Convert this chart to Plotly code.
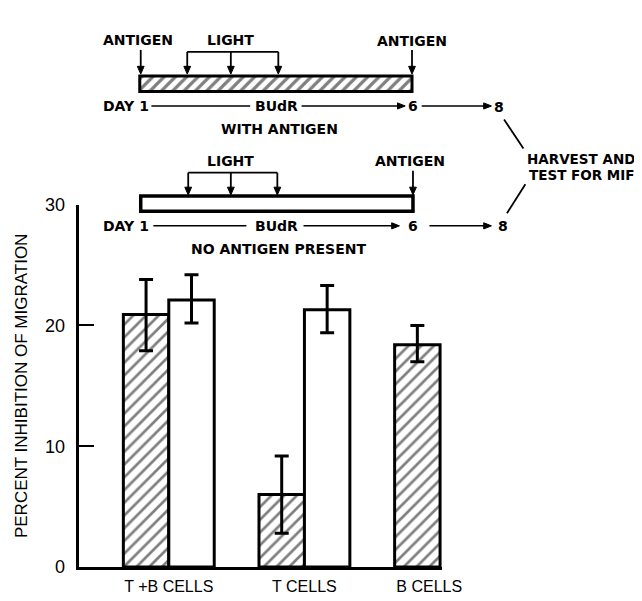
import plotly.graph_objects as go

# ---------------- data ----------------
categories = ["T +B CELLS", "T CELLS", "B CELLS"]
cat_pos = [0, 1, 2]
label_pos = [0, 1, 1.92]
with_antigen = [20.9, 6.0, 18.4]
with_err_up = [2.9, 3.2, 1.6]
with_err_down = [3.0, 3.2, 1.4]
no_antigen = [22.1, 21.3, None]
no_err_up = [2.1, 2.0, None]
no_err_down = [1.9, 1.9, None]
y_ticks = [0, 10, 20, 30]
y_title = "PERCENT INHIBITION OF MIGRATION"

# ---------------- layout constants (pixels) ----------------
W, H = 642, 601
AX_L, AX_R, AX_B, AX_T = 73, 448, 568, 193

fig = go.Figure()

fig.add_trace(go.Bar(
    x=cat_pos, y=with_antigen, name="with antigen",
    marker=dict(color="white", line=dict(color="black", width=3),
                pattern=dict(shape="/", fgcolor="black", bgcolor="white", size=9, solidity=0.3)),
    error_y=dict(type="data", symmetric=False, array=with_err_up, arrayminus=with_err_down,
                 color="black", thickness=3, width=7),
    showlegend=False, hoverinfo="skip"))

fig.add_trace(go.Bar(
    x=cat_pos, y=no_antigen, name="no antigen",
    marker=dict(color="white", line=dict(color="black", width=3)),
    error_y=dict(type="data", symmetric=False, array=no_err_up, arrayminus=no_err_down,
                 color="black", thickness=3, width=7),
    showlegend=False, hoverinfo="skip"))

# ---------------- schematic (overlay axes in pixel units) ----------------
BAR_L, BAR_R = 136, 417
fig.add_trace(go.Bar(
    x=[BAR_R - BAR_L], base=[BAR_L], y=[68], width=[16], orientation="h",
    xaxis="x2", yaxis="y2",
    marker=dict(color="white", line=dict(color="black", width=3),
                pattern=dict(shape="/", fgcolor="black", bgcolor="white", size=8, solidity=0.4)),
    showlegend=False, hoverinfo="skip"))
fig.add_trace(go.Bar(
    x=[418 - 137], base=[137], y=[192], width=[16], orientation="h",
    xaxis="x2", yaxis="y2",
    marker=dict(color="white", line=dict(color="black", width=3.5)),
    showlegend=False, hoverinfo="skip"))

shapes = []
annotations = []
FONT = dict(family="DejaVu Sans", size=14, color="black", weight="bold")


def seg(x0, y0, x1, y1, w=1.8):
    shapes.append(dict(type="line", xref="x2", yref="y2", x0=x0, y0=y0, x1=x1, y1=y1,
                       line=dict(color="black", width=w), layer="above"))


def tri(path):
    shapes.append(dict(type="path", xref="x2", yref="y2", path=path,
                       fillcolor="black", line=dict(color="black", width=1), layer="above"))


def arrow_down(x, y0, y1):
    seg(x, y0, x, y1 - 5, 1.8)
    tri(f"M {x-3.5},{y1-8} L {x+3.5},{y1-8} L {x},{y1} Z")


def arrow_right(x0, x1, y):
    seg(x0, y, x1 - 6, y, 1.5)
    tri(f"M {x1-8},{y-3.2} L {x1-8},{y+3.2} L {x1},{y} Z")


def text(s, x, y, anchor="center", size=14):
    f = dict(FONT)
    f["size"] = size
    annotations.append(dict(text=s, x=x, y=y, xref="x2", yref="y2", showarrow=False,
                            xanchor=anchor, yanchor="middle", font=f, borderpad=0))


# upper schematic
text("ANTIGEN", 134, 23)
arrow_down(137, 33, 58)
text("LIGHT", 230, 23)
seg(185, 35, 279, 35, 1.8)
for xx in (185, 230, 279):
    arrow_down(xx, 35, 58)
text("ANTIGEN", 417, 24)
arrow_down(417, 33, 58)
text("DAY 1", 97, 91, "left")
seg(148, 91, 250, 91, 1.5)
text("BUdR", 277, 91)
arrow_right(303, 410, 91)
text("6", 418, 91)
arrow_right(427, 499, 91)
text("8", 507, 92)
text("WITH ANTIGEN", 280, 115)
seg(512, 105, 532, 135, 1.8)

# lower schematic
text("LIGHT", 230, 148)
seg(186, 160, 278, 160, 1.8)
for xx in (186, 230, 278):
    arrow_down(xx, 160, 183)
text("ANTIGEN", 415, 148)
arrow_down(418, 158, 183)
text("DAY 1", 97, 215, "left")
seg(150, 215, 246, 215, 1.5)
text("BUdR", 277, 215)
arrow_right(305, 404, 215)
text("6", 418, 215)
arrow_right(435, 499, 215)
text("8", 511, 215)
text("NO ANTIGEN PRESENT", 279, 239)
seg(534, 172, 515, 202, 1.8)

text("HARVEST AND", 535, 146, "left", 13.5)
text("TEST FOR MIF", 537, 162, "left", 13.5)

fig.update_layout(
    width=W, height=H,
    margin=dict(l=0, r=0, t=0, b=0),
    paper_bgcolor="white", plot_bgcolor="rgba(0,0,0,0)",
    barmode="group", bargap=0.33, bargroupgap=0,
    shapes=shapes, annotations=annotations,
    xaxis=dict(domain=[AX_L / W, AX_R / W], range=[-0.664, -0.664 + (AX_R - AX_L) / 140.0],
               showline=True, linecolor="black", linewidth=3, showgrid=False, zeroline=False,
               tickmode="array", tickvals=label_pos, ticktext=categories, ticks="",
               ticklabelstandoff=3,
               tickfont=dict(family="Liberation Sans", size=16, color="black"),
               anchor="y", fixedrange=True),
    yaxis=dict(domain=[(H - AX_B) / H, (H - AX_T) / H], range=[0, 30],
               showline=True, linecolor="black", linewidth=3, showgrid=False, zeroline=False,
               tickmode="array", tickvals=y_ticks, ticks="inside", ticklen=15, tickwidth=2,
               tickcolor="black", ticklabelstandoff=7,
               tickfont=dict(family="Liberation Sans", size=18, color="black"),
               title=dict(text=y_title, font=dict(family="Liberation Sans", size=17, color="black"),
                          standoff=14),
               anchor="x", fixedrange=True),
    xaxis2=dict(domain=[0, 1], range=[0, W], visible=False, anchor="y2", fixedrange=True),
    yaxis2=dict(domain=[0, 1], range=[H, 0], visible=False, anchor="x2", fixedrange=True),
)

fig.write_html("out.html")
